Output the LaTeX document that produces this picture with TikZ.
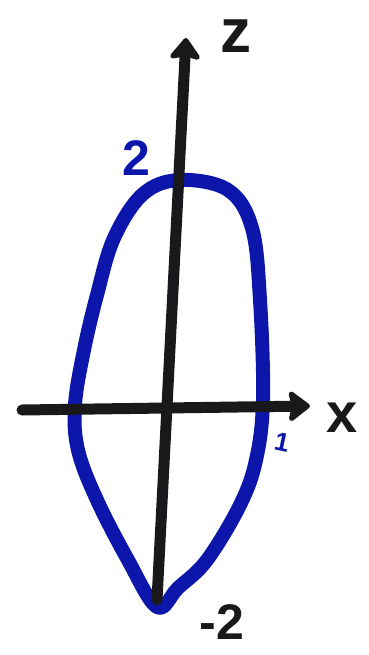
\documentclass[tikz,border=0pt]{standalone}
\usepackage{fontspec}
\setmainfont{Liberation Sans}
\usetikzlibrary{arrows.meta}
\definecolor{pen}{RGB}{12,22,170}
\definecolor{ink}{RGB}{25,25,28}
\tikzset{
  axis/.style={draw=ink, line width=11pt, line cap=round, -{Stealth[length=24pt,width=36pt,inset=4pt,round]}},
  curve/.style={draw=pen, line width=14pt, line join=round},
  lbl/.style={font=\bfseries\fontsize{50}{50}\selectfont, inner sep=0pt},
}
\begin{document}
\begin{tikzpicture}[x=1pt,y=-1pt]
\useasboundingbox (0,0) rectangle (368,655);
\path[curve] plot[smooth cycle, tension=0.6] coordinates {
 (180,180) (228,190) (252,228) (260,300) (263,400) (256,460) (240,505)
 (207,560) (178,588) (157,607) (128,560) (97,500) (78,450) (75,405)
 (84,350) (97,295) (114,238) (143,194)};
\coordinate (zb) at (157,600);
\coordinate (zt) at (186,38);
\coordinate (xl) at (22,410);
\coordinate (xr) at (310,406);
\draw[axis] (zb) -- (zt);
\draw[axis] (xl) -- (xr);
\node[lbl, text=ink, font=\bfseries\fontsize{62}{62}\selectfont] (zl) at (236,36) {z};
\node[lbl, text=ink, font=\bfseries\fontsize{56}{56}\selectfont] (xlab) at (342,418) {x};
\node[lbl, text=pen] (two) at (136,158) {2};
\node[lbl, text=ink] (mtwo) at (222,622) {-2};
\node[lbl, text=pen, font=\bfseries\fontsize{26}{26}\selectfont, rotate=-12] (one) at (282,442) {1};
\end{tikzpicture}
\end{document}
